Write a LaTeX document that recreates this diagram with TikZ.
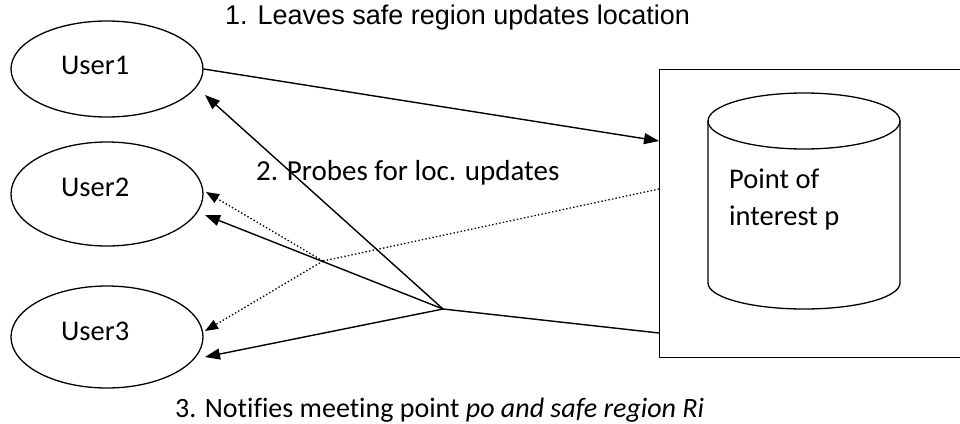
\documentclass[tikz,border=0pt]{standalone}
\usepackage{fontspec}
\setmainfont{Carlito}[Ligatures=NoCommon]
\newfontfamily\arialfont{Liberation Sans}
\usetikzlibrary{arrows.meta,shapes.geometric}
\begin{document}
\begin{tikzpicture}[x=1pt,y=-1pt,
 user/.style={draw,ellipse,line width=1.3pt,minimum width=192pt,minimum height=96pt,inner sep=0pt},
 lbl/.style={anchor=base west,inner sep=0pt,font=\fontsize{28.5}{34}\selectfont},
 conn/.style={line width=1.4pt},
 arr/.style={conn,-{Triangle[length=15pt,width=11pt]}},
 dotln/.style={line width=1.3pt,dash pattern=on 1.4pt off 2.2pt},
 darr/.style={dotln,-{Triangle[length=13pt,width=10pt]}}]
\useasboundingbox (0,0) rectangle (960,423);
% users
\node[user] (u1) at (107,69) {};
\node[user,minimum height=104pt] (u2) at (107,194) {};
\node[user,minimum height=102pt] (u3) at (107,337) {};
\node[lbl] (l1) at (61,74) {User1};
\node[lbl] (l2) at (61,196) {User2};
\node[lbl] (l3) at (61,340) {User3};
% server box
\node[draw,line width=1.3pt,minimum width=306pt,minimum height=288pt,anchor=north west,inner sep=0pt] (box) at (659,69) {};
% cylinder
\draw[line width=1.3pt] (804,121) ellipse [x radius=96, y radius=28];
\draw[line width=1.3pt] (708,121) -- (708,283) arc[start angle=180,end angle=0,x radius=96,y radius=26] -- (900,121);
\node[lbl] (p1) at (729,188) {Point of};
\node[lbl] (p2) at (729,225) {interest p};
% coordinates
\coordinate (hub) at (443,309);
\coordinate (a1) at (659,141);
\coordinate (b1) at (659,333);
\coordinate (t1) at (205,95);
\coordinate (t2) at (205,215);
\coordinate (t3) at (205,357);
\coordinate (ds) at (659,189);
\coordinate (jn) at (323,261);
\coordinate (dt2) at (206,192);
\coordinate (dt3) at (205,331);
% connectors
\draw[arr] (u1.east) -- (a1);
\draw[arr] (hub) -- (t1);
\draw[arr] (hub) -- (t2);
\draw[arr] (hub) -- (t3);
\draw[conn] (hub) -- (b1);
\draw[dotln] (ds) -- (jn);
\draw[darr] (jn) -- (dt2);
\draw[darr] (jn) -- (dt3);
% labels
\node[anchor=base west,inner sep=0pt,font=\arialfont\fontsize{27}{32}\selectfont] (s1) at (225,24) {1. Leaves safe region updates location};
\node[lbl,font=\fontsize{29}{34}\selectfont] (s2) at (256,180) {2. Probes for loc. updates};
\node[lbl,font=\fontsize{28}{34}\selectfont] (s3) at (175,417) {3. Notifies meeting point \textit{po and safe region Ri}};
\end{tikzpicture}
\end{document}
